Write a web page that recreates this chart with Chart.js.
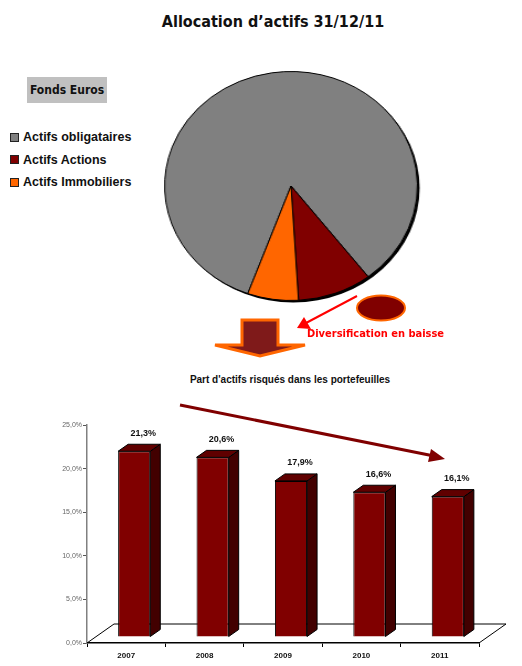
<!DOCTYPE html>
<html lang="fr">
<head>
<meta charset="UTF-8">
<title>Allocation d'actifs 31/12/11</title>
<script src="https://cdn.jsdelivr.net/npm/chart.js"></script>
<style>
    body {
        margin: 0;
        background: #fff;
        font-family: "Liberation Sans", Arial, sans-serif;
    }
    .page {
        position: relative;
        width: 522px;
        height: 666px;
        overflow: hidden;
    }
    .titre {
        position: absolute;
        left: 0;
        width: 546px;
        top: 12px;
        text-align: center;
        font-family: "DejaVu Sans Condensed", "DejaVu Sans", sans-serif;
        font-stretch: condensed;
        font-weight: bold;
        font-size: 16px;
        color: #111;
    }
    .fonds {
        position: absolute;
        left: 27px;
        top: 77px;
        width: 80px;
        height: 26px;
        line-height: 26px;
        background: #c0c0c0;
        text-align: center;
        font-family: "DejaVu Sans Condensed", "DejaVu Sans", sans-serif;
        font-stretch: condensed;
        font-weight: bold;
        font-size: 12px;
        color: #111;
    }
    .legende {
        position: absolute;
        left: 10px;
        top: 126px;
        font-weight: bold;
        font-size: 12.5px;
        color: #111;
    }
    .legende div {
        height: 22.5px;
        display: flex;
        align-items: center;
    }
    .legende span.carre {
        display: inline-block;
        width: 7px;
        height: 7px;
        border: 1px solid #222;
        margin-right: 4px;
    }
    .titreBarres {
        position: absolute;
        left: 140px;
        width: 300px;
        top: 374px;
        text-align: center;
        font-weight: bold;
        font-size: 10px;
        color: #111;
    }
    #pieChart {
        position: absolute;
        left: 173px;
        top: 68px;
        transform: scaleX(1.104);
        transform-origin: center;
    }
    #barChart {
        position: absolute;
        left: 0;
        top: 370px;
    }
    .deco {
        position: absolute;
        left: 0;
        top: 0;
    }
    .baisse {
        font-family: "DejaVu Sans Condensed", "DejaVu Sans", sans-serif;
        font-stretch: condensed;
        font-weight: bold;
        font-size: 11px;
    }
</style>
</head>
<body>
<div class="page">
    <div class="titre">Allocation d’actifs 31/12/11</div>
    <div class="fonds">Fonds Euros</div>
    <div class="legende" id="legende"></div>
    <canvas id="pieChart" width="236" height="236"></canvas>
    <div class="titreBarres">Part d'actifs risqués dans les portefeuilles</div>
    <canvas id="barChart" width="522" height="296"></canvas>

    <svg class="deco" width="522" height="666">
        <!-- fleche bloc -->
        <polygon points="242,320 278,320 278,345 305,345 260,356 215,345 242,345"
                 fill="#7f1a1a" stroke="#ff6600" stroke-width="3" stroke-linejoin="miter"/>
        <!-- ellipse -->
        <ellipse cx="381" cy="308" rx="24" ry="12.5" fill="#800000" stroke="#ff6600" stroke-width="2"/>
        <!-- fleche rouge -->
        <line x1="357" y1="296" x2="306" y2="323" stroke="#ff0000" stroke-width="2"/>
        <polygon points="297,328 304,317 311,329" fill="#ff0000"/>
        <text x="307" y="337" fill="#ff0000" class="baisse">Diversification en baisse</text>
        <!-- tendance -->
        <line x1="180" y1="405" x2="434" y2="456" stroke="#800000" stroke-width="3"/>
        <polygon points="445,459 431,449 428,462" fill="#800000"/>
    </svg>
</div>

<script>
    // Fonds Euros au 31/12/11
    const categoriesActifs = ["Actifs obligataires", "Actifs Actions", "Actifs Immobiliers"];
    const partsActifs = [84, 9.5, 6.5];
    const couleursActifs = ["#808080", "#800000", "#ff6600"];

    // Part d'actifs risqués dans les portefeuilles
    const annees = ["2007", "2008", "2009", "2010", "2011"];
    const partRisques = [21.3, 20.6, 17.9, 16.6, 16.1];
    const ticksY = ["0,0%", "5,0%", "10,0%", "15,0%", "20,0%", "25,0%"];

    // legende html
    const legende = document.getElementById("legende");
    categoriesActifs.forEach((nom, i) => {
        const ligne = document.createElement("div");
        ligne.innerHTML = '<span class="carre" style="background:' + couleursActifs[i] + '"></span>' + nom;
        legende.appendChild(ligne);
    });

    // ombre noire sous le camembert
    const ombrePie = {
        id: "ombrePie",
        beforeDatasetsDraw(chart) {
            const arc = chart.getDatasetMeta(0).data[0];
            if (!arc) return;
            const ctx = chart.ctx;
            ctx.save();
            ctx.fillStyle = "#000";
            ctx.beginPath();
            ctx.arc(arc.x + 2, arc.y + 2, arc.outerRadius, 0, Math.PI * 2);
            ctx.fill();
            ctx.restore();
        }
    };

    new Chart(document.getElementById("pieChart"), {
        type: "pie",
        data: {
            labels: categoriesActifs,
            datasets: [{
                data: partsActifs,
                backgroundColor: couleursActifs,
                borderColor: "#000",
                borderWidth: 1
            }]
        },
        options: {
            responsive: false,
            animation: false,
            rotation: 200,
            layout: { padding: 3 },
            plugins: {
                legend: { display: false },
                tooltip: { enabled: false }
            }
        },
        plugins: [ombrePie]
    });

    // effet 3D des barres
    const DX = 8, DY = -6;      // decalage face avant
    const PX = 10, PY = -7;     // profondeur barre
    const SOL_X = 27, SOL_Y = -19;

    const barres3D = {
        id: "barres3D",
        beforeDatasetsDraw(chart) {
            const ctx = chart.ctx;
            const a = chart.chartArea;
            const y0 = chart.scales.y.getPixelForValue(0);
            ctx.save();
            ctx.strokeStyle = "#000";
            ctx.lineWidth = 1;
            ctx.beginPath();
            ctx.moveTo(a.left, y0);
            ctx.lineTo(a.left + SOL_X, y0 + SOL_Y);
            ctx.lineTo(a.right + SOL_X, y0 + SOL_Y);
            ctx.lineTo(a.right, y0);
            ctx.stroke();
            ctx.restore();
            ctx.save();
            ctx.translate(DX, DY);
        },
        afterDatasetsDraw(chart) {
            const ctx = chart.ctx;
            ctx.restore();
            ctx.save();
            ctx.strokeStyle = "#000";
            ctx.lineWidth = 1;
            chart.getDatasetMeta(0).data.forEach((bar, i) => {
                const L = bar.x - bar.width / 2 + DX;
                const R = bar.x + bar.width / 2 + DX;
                const T = bar.y + DY;
                const B = bar.base + DY;
                // cote
                ctx.fillStyle = "#420000";
                ctx.beginPath();
                ctx.moveTo(R, T);
                ctx.lineTo(R + PX, T + PY);
                ctx.lineTo(R + PX, B + PY);
                ctx.lineTo(R, B);
                ctx.closePath();
                ctx.fill();
                ctx.stroke();
                // dessus
                ctx.fillStyle = "#600000";
                ctx.beginPath();
                ctx.moveTo(L, T);
                ctx.lineTo(L + PX, T + PY);
                ctx.lineTo(R + PX, T + PY);
                ctx.lineTo(R, T);
                ctx.closePath();
                ctx.fill();
                ctx.stroke();
                // etiquette
                ctx.fillStyle = "#111";
                ctx.font = "bold 9px 'Liberation Sans', Arial, sans-serif";
                ctx.textAlign = "center";
                ctx.textBaseline = "middle";
                const v = partRisques[i].toFixed(1).replace(".", ",") + "%";
                ctx.fillText(v, bar.x + DX + 9, T - 18);
            });
            ctx.restore();
        }
    };

    new Chart(document.getElementById("barChart"), {
        type: "bar",
        data: {
            labels: annees,
            datasets: [{
                data: partRisques,
                backgroundColor: "#800000",
                borderColor: "#000",
                borderWidth: 1,
                categoryPercentage: 1,
                barPercentage: 0.41
            }]
        },
        options: {
            responsive: false,
            animation: false,
            layout: { padding: { left: 0, right: 43, top: 55, bottom: 0 } },
            scales: {
                x: {
                    afterFit: (s) => { s.height = 23; },
                    border: { color: "#000", width: 1.5 },
                    grid: { offset: true, drawOnChartArea: false, tickLength: 4, color: "#000" },
                    ticks: {
                        color: "#111",
                        padding: 4,
                        font: { family: "'Liberation Sans', Arial, sans-serif", size: 8, weight: "bold" }
                    }
                },
                y: {
                    min: 0,
                    max: 25,
                    afterFit: (s) => { s.width = 87; },
                    border: { color: "#808080", width: 1.5 },
                    grid: { drawOnChartArea: false, tickLength: 4, color: "#555" },
                    ticks: {
                        stepSize: 5,
                        color: "#666",
                        padding: 1,
                        font: { family: "'Liberation Sans', Arial, sans-serif", size: 7 },
                        callback: (val, idx) => ticksY[idx]
                    }
                }
            },
            plugins: {
                legend: { display: false },
                tooltip: { enabled: false }
            }
        },
        plugins: [barres3D]
    });
</script>
</body>
</html>
